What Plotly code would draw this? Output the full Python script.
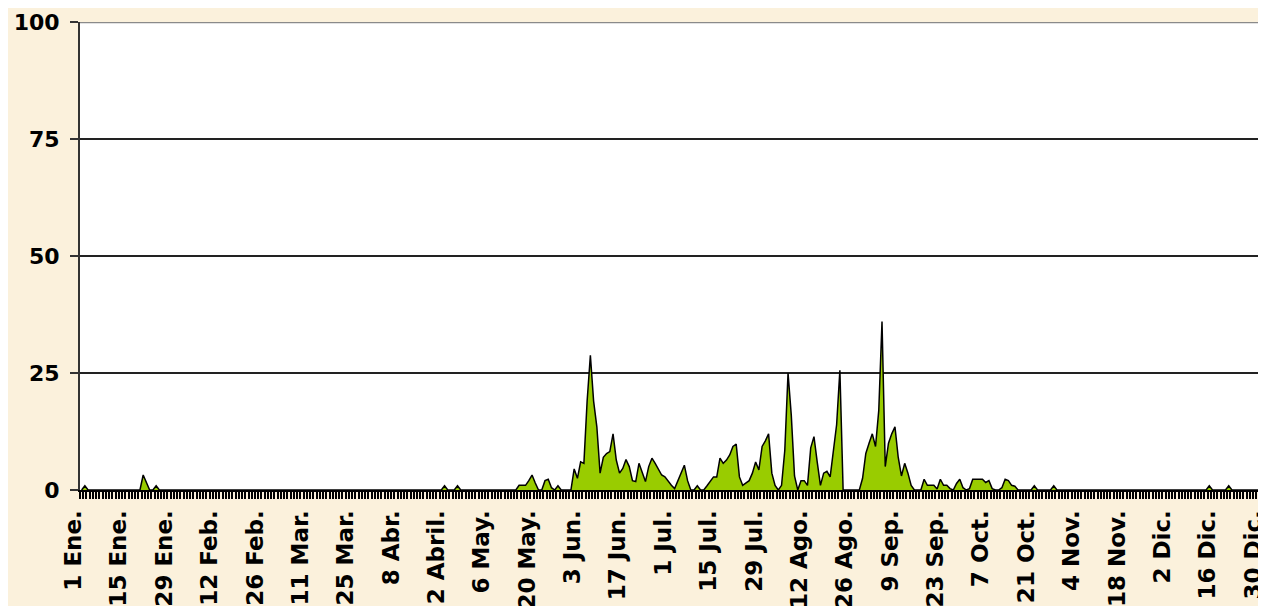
import plotly.graph_objects as go

# ---- data (one value per day of a leap year) ----
values = [
    0, 0.9, 0, 0, 0, 0, 0, 0, 0, 0, 0, 0, 0, 0,
    0, 0, 0, 0, 0, 3.2, 1.4, 0, 0, 0.9, 0, 0, 0, 0,
    0, 0, 0, 0, 0, 0, 0, 0, 0, 0, 0, 0, 0, 0,
    0, 0, 0, 0, 0, 0, 0, 0, 0, 0, 0, 0, 0, 0,
    0, 0, 0, 0, 0, 0, 0, 0, 0, 0, 0, 0, 0, 0,
    0, 0, 0, 0, 0, 0, 0, 0, 0, 0, 0, 0, 0, 0,
    0, 0, 0, 0, 0, 0, 0, 0, 0, 0, 0, 0, 0, 0,
    0, 0, 0, 0, 0, 0, 0, 0, 0, 0, 0, 0, 0, 0,
    0.9, 0, 0, 0, 0.9, 0, 0, 0, 0, 0, 0, 0, 0, 0,
    0, 0, 0, 0, 0, 0, 0, 0, 0, 1, 1, 1, 2, 3.2,
    1.5, 0, 0, 2, 2.3, 0.5, 0, 0.9, 0, 0, 0, 0, 4.5, 2.5,
    6, 5.7, 19, 28.8, 19, 13.5, 3.6, 7, 7.8, 8.2, 12, 6.4, 3.6, 4.6,
    6.5, 5, 2, 1.8, 5.7, 3.6, 1.8, 5, 6.8, 5.7, 4.3, 3.2, 2.8, 1.8,
    1, 0.3, 2, 3.6, 5.3, 2, 0, 0, 0.9, 0, 0, 0.9, 1.8, 2.8,
    2.8, 6.8, 5.7, 6.4, 7.5, 9.3, 9.8, 2.8, 1, 1.5, 2, 3.6, 6, 4.3,
    9.3, 10.5, 12, 3.6, 1, 0, 1, 8.5, 25, 16, 3, 0, 2, 2,
    1, 9, 11.4, 6, 1, 3.6, 4, 2.8, 8.5, 14, 25.6, 0, 0, 0,
    0, 0, 0, 2.5, 7.8, 10, 12, 9.3, 17, 36, 5, 10, 12, 13.5,
    7, 3, 5.7, 3.6, 1, 0, 0, 0, 2.3, 1, 1, 1, 0.2, 2.3,
    1, 1, 0.3, 0, 1.4, 2.3, 0.5, 0, 0.3, 2.3, 2.3, 2.3, 2.3, 1.6,
    2, 0.3, 0, 0, 0.5, 2.3, 2, 1, 0.8, 0, 0, 0, 0, 0,
    0.9, 0, 0, 0, 0, 0, 0.9, 0, 0, 0, 0, 0, 0, 0,
    0, 0, 0, 0, 0, 0, 0, 0, 0, 0, 0, 0, 0, 0,
    0, 0, 0, 0, 0, 0, 0, 0, 0, 0, 0, 0, 0, 0,
    0, 0, 0, 0, 0, 0, 0, 0, 0, 0, 0, 0, 0.9, 0,
    0, 0, 0, 0, 0.9, 0, 0, 0, 0, 0, 0, 0, 0, 0,
    0, 0,
]
day_index = list(range(len(values)))

tick_days = [0, 14, 28, 42, 56, 70, 84, 98, 112, 126, 140, 154, 168, 182,
             196, 210, 224, 238, 252, 266, 280, 294, 308, 322, 336, 350, 364]
tick_labels = ["1 Ene.", "15 Ene.", "29 Ene.", "12 Feb.", "26 Feb.", "11 Mar.",
               "25 Mar.", "8 Abr.", "22 Abril.", "6 May.", "20 May.", "3 Jun.",
               "17 Jun.", "1 Jul.", "15 Jul.", "29 Jul.", "12 Ago.", "26 Ago.",
               "9 Sep.", "23 Sep.", "7 Oct.", "21 Oct.", "4 Nov.", "18 Nov.",
               "2 Dic.", "16 Dic.", "30 Dic."]
y_ticks = [0, 25, 50, 75, 100]

# the page has an 8px body margin, so the figure is drawn from (8, 8)
W, H = 1258, 598
ML, MR, MT, MB = 72, 0, 14, 116

fig = go.Figure()
fig.add_trace(go.Scatter(
    x=day_index, y=values, mode="lines", fill="tozeroy",
    fillcolor="#99CC00", line=dict(color="black", width=1.5),
    hoverinfo="x+y", showlegend=False,
))

font_b = dict(family="DejaVu Sans", color="black", weight="bold")

fig.update_layout(
    width=W, height=H,
    margin=dict(l=ML, r=MR, t=MT, b=MB, autoexpand=False),
    paper_bgcolor="#FBF1DC",
    plot_bgcolor="white",
    xaxis=dict(
        range=[-0.5, len(values) - 0.5],
        tickmode="array", tickvals=tick_days, ticktext=tick_labels,
        tickangle=-90, tickfont=dict(size=23, **font_b),
        ticks="outside", ticklen=8, tickcolor="rgba(0,0,0,0)",
        ticklabelstandoff=1, ticklabelshift=-8, ticklabeloverflow="allow",
        minor=dict(ticks="outside", tickmode="linear", tick0=-0.5, dtick=1,
                   ticklen=7, tickwidth=2, tickcolor="black"),
        showline=True, linecolor="black", linewidth=2,
        showgrid=False, zeroline=False, fixedrange=True, automargin=False,
    ),
    yaxis=dict(
        range=[0, 100], tickmode="array", tickvals=y_ticks,
        tickfont=dict(size=22, **font_b),
        ticks="outside", ticklen=8, tickwidth=2, tickcolor="#333",
        ticklabelstandoff=6,
        showline=True, linecolor="#333", linewidth=2,
        showgrid=True, gridcolor="#222", gridwidth=1.5,
        zeroline=False, fixedrange=True, automargin=False,
    ),
    shapes=[
        dict(type="line", xref="paper", yref="y", x0=0, x1=1, y0=100, y1=100,
             line=dict(color="#8a8a8a", width=2.5)),
    ],
)

fig.write_html("out.html")
